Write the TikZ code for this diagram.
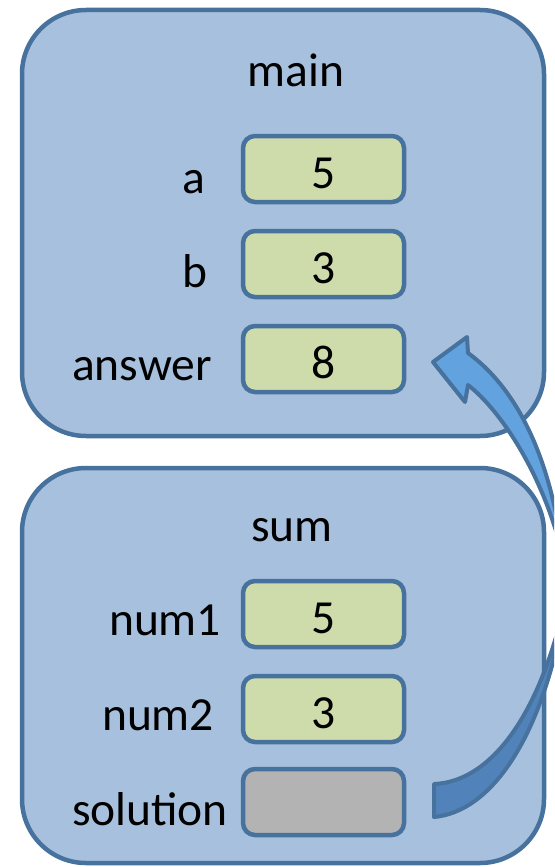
\documentclass[tikz,border=0pt]{standalone}
\usepackage{fontspec}
\setmainfont{Carlito}
\definecolor{frameblue}{HTML}{A7C0DE}
\definecolor{edgeblue}{HTML}{47729E}
\definecolor{cellgreen}{HTML}{CEDCAC}
\definecolor{cellgrey}{HTML}{B3B3B3}
\definecolor{arrowlight}{HTML}{62A2DE}
\definecolor{arrowdark}{HTML}{5183BA}
\begin{document}
\begin{tikzpicture}[x=1pt,y=-1pt,
  frame/.style={draw=edgeblue, fill=frameblue, line width=4.5pt, rounded corners=64pt,
    inner sep=0pt, outer sep=0pt},
  cell/.style={draw=edgeblue, fill=cellgreen, line width=4.5pt, rounded corners=12pt,
    minimum width=161pt, minimum height=66pt, inner sep=0pt, outer sep=0pt},
  emptycell/.style={cell, fill=cellgrey},
  txt/.style={font=\fontsize{47.5}{57}\selectfont, inner sep=0pt, outer sep=0pt},
  arrowline/.style={draw=edgeblue, line width=4pt, line join=round}]
\useasboundingbox (0,0) rectangle (554,867);
\fill[white] (0,0) rectangle (554,867);

% frames
\node[frame, minimum width=522pt, minimum height=426pt] (main) at (283,223) {};
\node[frame, minimum width=522pt, minimum height=395pt] (sum) at (283,665.5) {};

\node[txt, anchor=base] (tmain) at (296,86) {main};
\node[txt, anchor=base] (tsum) at (292,541) {sum};

% main cells
\node[cell] (ca) at (323.5,169) {};
\node[cell] (cb) at (323.5,264) {};
\node[cell] (cans) at (323.5,359) {};
\node[txt, anchor=base] (va) at (323.5,188) {5};
\node[txt, anchor=base] (vb) at (323.5,283) {3};
\node[txt, anchor=base] (vans) at (323.5,378) {8};
\node[txt, anchor=base east] (la) at (205,193) {a};
\node[txt, anchor=base east] (lb) at (207,287) {b};
\node[txt, anchor=base east] (lans) at (212,380) {answer};

% sum cells
\node[cell] (cn1) at (323.5,614) {};
\node[cell] (cn2) at (323.5,709) {};
\node[emptycell] (csol) at (323.5,802) {};
\node[txt, anchor=base] (vn1) at (323.5,633) {5};
\node[txt, anchor=base] (vn2) at (323.5,728) {3};
\node[txt, anchor=base east] (ln1) at (221,635) {num1};
\node[txt, anchor=base east] (ln2) at (214,730) {num2};
\node[txt, anchor=base east] (lsol) at (228,825) {solution};

% curved arrow from solution to answer
\coordinate (tailtop) at (434,784);
\coordinate (tailbot) at (434,817);
\coordinate (neckup) at (468,353);
\coordinate (necklow) at (468,385);
\coordinate (tip) at (433,362);
\coordinate (barbup) at (467,337);
\coordinate (barblow) at (465,402);
\begin{scope}
\clip (0,0) rectangle (554,867);
\draw[arrowline, fill=arrowdark] (tailbot) .. controls (490,812) and (545,740) .. (568,590)
  -- (558,630) .. controls (530,730) and (484,782) .. (tailtop) -- cycle;
\draw[arrowline, fill=arrowlight] (neckup) .. controls (508,382) and (544,438) .. (560,535)
  -- (560,545) .. controls (540,470) and (500,410) .. (necklow)
  -- (barblow) -- (tip) -- (barbup) -- cycle;
\end{scope}
\end{tikzpicture}
\end{document}
